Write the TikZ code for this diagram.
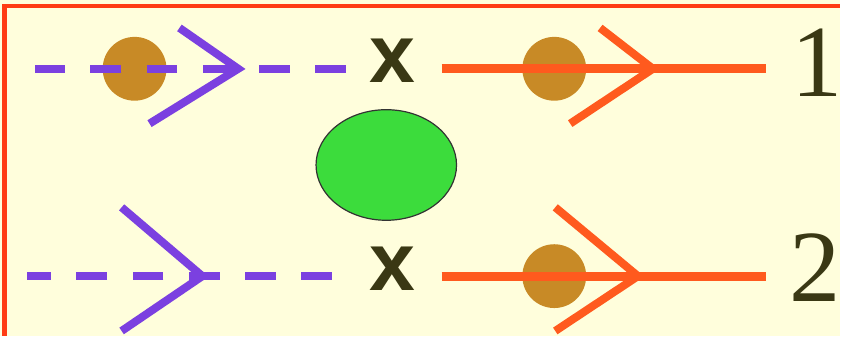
\documentclass[tikz,border=0pt]{standalone}
\usepackage{fontspec}
\setmainfont{Liberation Serif}
\newfontfamily\markfont{Liberation Sans}
\usetikzlibrary{shapes.geometric}

\definecolor{bgyellow}{HTML}{FFFEDC}
\definecolor{framered}{HTML}{FF3C14}
\definecolor{linepurple}{HTML}{7B40E0}
\definecolor{lineorange}{HTML}{FF5A1E}
\definecolor{dotbrown}{HTML}{C88A26}
\definecolor{blobgreen}{HTML}{3CDC3C}
\definecolor{textdark}{HTML}{3A3814}

\begin{document}
\begin{tikzpicture}[x=0.75pt, y=-0.75pt,
    dot/.style={circle, fill=dotbrown, minimum size=48pt, inner sep=0pt},
    incoming/.style={linepurple, line width=6.4pt, dash pattern=on 23pt off 19.3pt},
    outgoing/.style={lineorange, line width=6.6pt},
    arm/.style={line width=6pt, line join=miter},
    vertex/.style={inner sep=0pt, text=textdark, font=\markfont\bfseries\fontsize{62}{62}\selectfont},
    label/.style={inner sep=0pt, text=textdark, font=\fontsize{77}{77}\selectfont}]

    % Parameters
    \def\ya{69}     % height of row 1
    \def\yb{277}    % height of row 2

    % Background and frame
    \fill[bgyellow] (0,0) rectangle (843,337);
    \draw[framered, line width=3.4pt] (4.5,337) -- (4.5,6) -- (843,6);

    % Central blob
    \node[ellipse, draw=black!80, line width=0.9pt, fill=blobgreen,
          minimum width=105.7pt, minimum height=83.2pt, inner sep=0pt]
      (blob) at (387.5,165.5) {};

    % Vertices
    \node[vertex] (x1) at (394,60.5) {x};
    \node[vertex] (x2) at (394,269.5) {x};

    % Row labels
    \node[label] (lab1) at (820,62.5) {1};
    \node[label] (lab2) at (818,268) {2};

    % Dots on the lines
    \node[dot] (d1) at (135,\ya) {};
    \node[dot] (d2) at (556,\ya) {};
    \node[dot] (d3) at (556,\yb) {};

    % Row 1
    \coordinate (a1) at (347,\ya);
    \coordinate (b1) at (35,\ya);
    \coordinate (c1) at (443,\ya);
    \coordinate (e1) at (768,\ya);
    \draw[incoming] (a1) -- (b1);
    \draw[outgoing] (c1) -- (e1);

    % Row 2
    \coordinate (a2) at (333,\yb);
    \coordinate (b2) at (27,\yb);
    \coordinate (c2) at (443,\yb);
    \coordinate (e2) at (768,\yb);
    \draw[incoming] (a2) -- (b2);
    \draw[outgoing] (c2) -- (e2);

    % Arrow heads
    \draw[arm, linepurple] (180,28) -- (239,\ya) -- (150,124);
    \draw[arm, lineorange] (602,28) -- (655,\ya) -- (572,124);
    \draw[arm, linepurple] (122,208) -- (203,\yb) -- (122,332);
    \draw[arm, lineorange] (557,208) -- (640,\yb) -- (557,332);
\end{tikzpicture}
\end{document}
